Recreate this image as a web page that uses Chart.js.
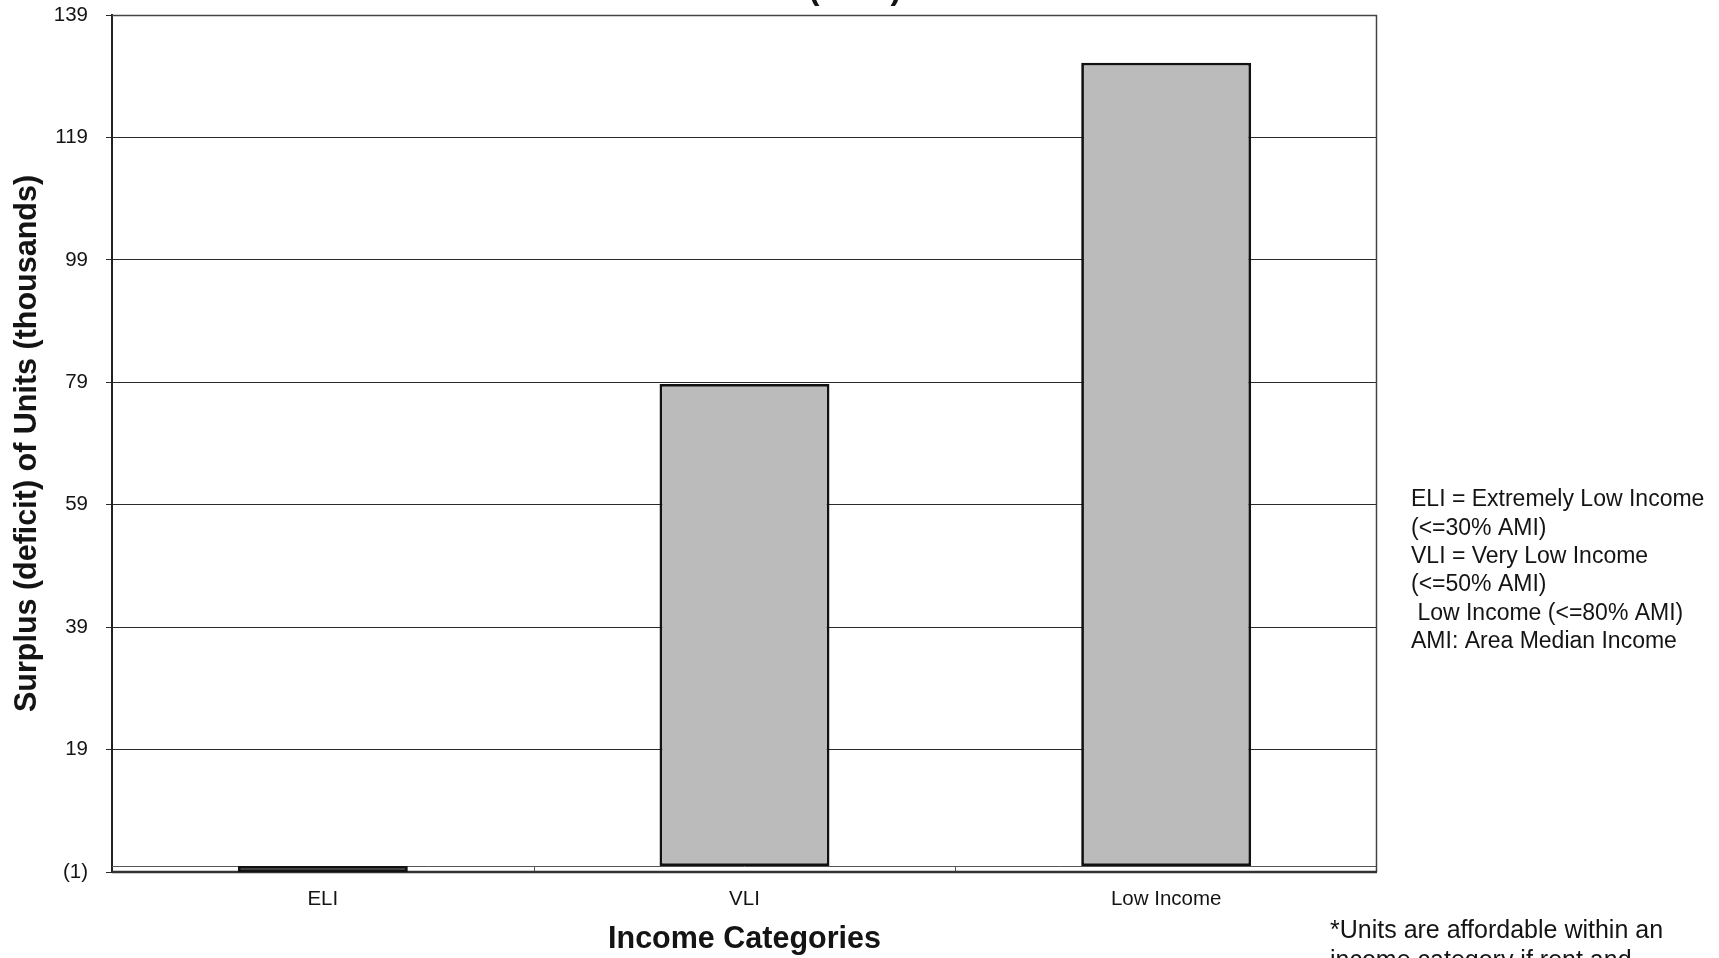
<!DOCTYPE html>
<html>
<head>
<meta charset="utf-8">
<script src="https://cdn.jsdelivr.net/npm/chart.js@4.4.1/dist/chart.umd.min.js"></script>
<style>
  html, body { margin: 0; padding: 0; background: #fff; overflow: hidden; }
  canvas { display: block; }
</style>
</head>
<body>
<canvas id="c" width="1719" height="958"></canvas>
<script>
// Affordable rental units: surplus / deficit by income category (thousands)
const categories = ['ELI', 'VLI', 'Low Income'];
const surplusThousands = [-1, 78.7, 131.2];
const yTickValues = [-1, 19, 39, 59, 79, 99, 119, 139];
const definitionLines = [
  'ELI = Extremely Low Income',
  '(<=30% AMI)',
  'VLI = Very Low Income',
  '(<=50% AMI)',
  ' Low Income (<=80% AMI)',
  'AMI: Area Median Income'
];
const footnoteLines = ['*Units are affordable within an', 'income category if rent and'];
const titleTail = '(2000)';

const FONT = '"Liberation Sans", Arial, Helvetica, sans-serif';
const INK = '#141414';

function fmtTick(v) {
  return v < 0 ? '(' + Math.abs(v) + ')' : String(v);
}

// Frame, zero line, category separators and side notes
const decorations = {
  id: 'decorations',
  beforeDatasetsDraw(chart) {
    const { ctx, chartArea: a, scales: { x, y } } = chart;
    const y0 = Math.round(y.getPixelForValue(0)) + 0.5;
    ctx.save();
    ctx.strokeStyle = '#555';
    ctx.lineWidth = 1;
    ctx.beginPath();
    ctx.moveTo(a.left, y0);
    ctx.lineTo(a.right, y0);
    // separators between categories, running down to the frame
    for (let i = 1; i < categories.length; i++) {
      const px = Math.round((x.getPixelForValue(i - 1) + x.getPixelForValue(i)) / 2) + 0.5;
      ctx.moveTo(px, y0);
      ctx.lineTo(px, a.bottom);
    }
    ctx.stroke();
    // plot frame
    ctx.strokeStyle = '#444';
    ctx.lineWidth = 1.5;
    ctx.beginPath();
    ctx.moveTo(a.left, a.top + 0.5);
    ctx.lineTo(a.right - 0.5, a.top + 0.5);
    ctx.lineTo(a.right - 0.5, a.bottom);
    ctx.stroke();
    ctx.strokeStyle = '#333';
    ctx.lineWidth = 2.5;
    ctx.beginPath();
    ctx.moveTo(a.left, a.bottom);
    ctx.lineTo(a.right, a.bottom);
    ctx.stroke();
    ctx.restore();
  },
  afterDraw(chart) {
    const { ctx } = chart;
    ctx.save();
    ctx.fillStyle = INK;
    ctx.textBaseline = 'middle';
    ctx.textAlign = 'left';
    // category definitions
    ctx.font = '23px ' + FONT;
    definitionLines.forEach((t, i) => ctx.fillText(t, 1411, 500 + i * 28.3));
    // footnote
    ctx.font = '25px ' + FONT;
    footnoteLines.forEach((t, i) => ctx.fillText(t, 1330, 931 + i * 30));
    // tail of the heading that sits above the page edge
    ctx.font = 'bold 32px ' + FONT;
    ctx.textAlign = 'center';
    ctx.textBaseline = 'alphabetic';
    ctx.fillText(titleTail, 855, -1);
    ctx.restore();
  }
};

new Chart(document.getElementById('c'), {
  type: 'bar',
  data: {
    labels: categories,
    datasets: [{
      data: surplusThousands,
      backgroundColor: ['#222222', '#bbbbbb', '#bbbbbb'],
      borderColor: '#111',
      borderWidth: 2.75,
      borderSkipped: false,
      categoryPercentage: 1,
      barPercentage: 0.403
    }]
  },
  options: {
    responsive: false,
    animation: false,
    devicePixelRatio: 1,
    layout: { padding: { left: 0, top: 15, right: 342, bottom: 0 } },
    plugins: { legend: { display: false }, tooltip: { enabled: false }, title: { display: false } },
    scales: {
      x: {
        grid: { display: false, drawTicks: false },
        border: { display: false },
        ticks: { color: INK, font: { family: FONT, size: 20.5 }, padding: 15, maxRotation: 0 },
        title: {
          display: true,
          text: 'Income Categories',
          color: INK,
          font: { family: FONT, size: 30.5, weight: 'bold' },
          padding: { top: 0, bottom: 0 }
        },
        afterFit(s) { s.height = 86; s.paddingLeft = 0; s.paddingRight = 0; }
      },
      y: {
        min: -1,
        max: 139,
        afterBuildTicks(s) { s.ticks = yTickValues.map(v => ({ value: v })); },
        grid: { color: '#2a2a2a', lineWidth: 1, drawTicks: true, tickLength: 6, tickColor: '#2a2a2a' },
        border: { display: true, color: '#222', width: 2 },
        ticks: { color: INK, font: { family: FONT, size: 20.5 }, padding: 18, callback: fmtTick },
        title: {
          display: true,
          text: 'Surplus (deficit) of Units (thousands)',
          color: INK,
          font: { family: FONT, size: 30.5, weight: 'bold' },
          padding: { top: 9, bottom: 0 }
        },
        afterFit(s) { s.width = 112; s.paddingTop = 0; s.paddingBottom = 0; }
      }
    }
  },
  plugins: [decorations]
});
</script>
</body>
</html>
